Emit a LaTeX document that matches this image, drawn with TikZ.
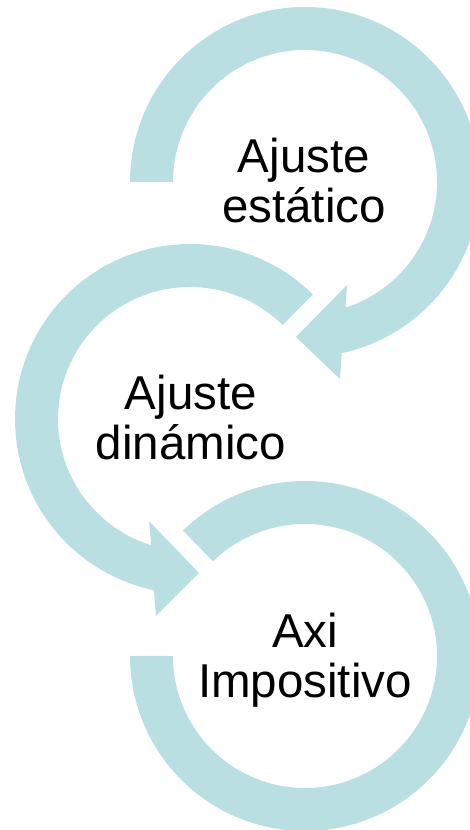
\documentclass[tikz,border=0pt]{standalone}
\usepackage{fontspec}
\setmainfont{Liberation Sans}
\definecolor{arrowfill}{RGB}{186,223,227}
\tikzset{
  band/.style={fill=arrowfill, draw=none},
  label/.style={align=center, inner sep=0pt, anchor=base, font=\fontsize{47.5}{50}\selectfont, text=black}
}
\begin{document}
\begin{tikzpicture}[x=1pt,y=1pt]
\useasboundingbox (0,0) rectangle (470,830);
\coordinate (c1) at (305,648);
\coordinate (c2) at (190,411);
\coordinate (c3) at (305,174);
% arrow 1 (top)
\coordinate (a1lo) at (340,451);
\coordinate (a1tip) at (296,493);
\coordinate (a1up) at (347,545);
\fill[band] ([shift={(180:175)}]c1) arc[start angle=180, end angle=-77.9, radius=175]
  -- (a1lo) -- (a1tip) -- (a1up)
  -- ([shift={(-72.1:132)}]c1) arc[start angle=-72.1, end angle=180, radius=132] -- cycle;
% arrow 2 (middle)
\coordinate (a2lo) at (156,214);
\coordinate (a2tip) at (199,257);
\coordinate (a2up) at (149,309);
\fill[band] ([shift={(45.4:175)}]c2) arc[start angle=45.4, end angle=258.1, radius=175]
  -- (a2lo) -- (a2tip) -- (a2up)
  -- ([shift={(252.9:132)}]c2) arc[start angle=252.9, end angle=45.4, radius=132] -- cycle;
% arrow 3 (bottom)
\fill[band] ([shift={(134.2:175)}]c3) arc[start angle=134.2, end angle=-180, radius=175]
  -- ([shift={(-180:132)}]c3) arc[start angle=-180, end angle=134.2, radius=132] -- cycle;
% labels (base anchor = baseline of the last line)
\node[label] (t1) at (304,607) {Ajuste\\estático};
\node[label] (t2) at (191,370) {Ajuste\\dinámico};
\node[label] (t3) at (305,132) {Axi\\Impositivo};
\end{tikzpicture}
\end{document}
